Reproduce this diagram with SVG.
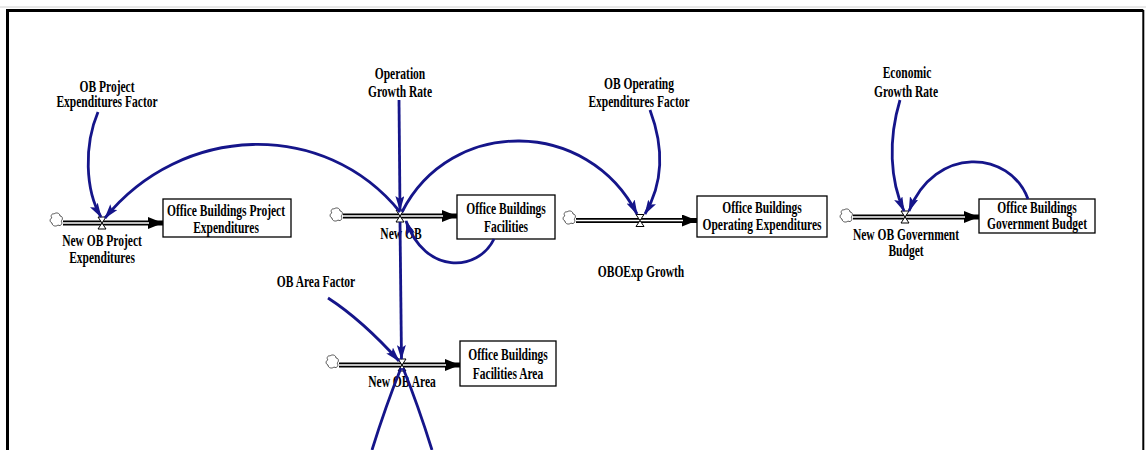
<svg xmlns="http://www.w3.org/2000/svg" width="1146" height="450" viewBox="0 0 1146 450">
  <style>
    .t { font-family: "Liberation Serif", "Times New Roman", serif; font-weight: bold; font-size: 16px; text-anchor: middle; fill: #000; }
    .box { fill: #fff; stroke: #000; stroke-width: 1.3; }
    .pipe { fill: none; stroke: #000; stroke-width: 5; }
    .pipe-in { fill: none; stroke: #fff; stroke-width: 1.6; }
    .valve { fill: #fff; stroke: #000; stroke-width: 1; }
    .cloud { fill: #fff; stroke: #555; stroke-width: 1; }
    .link { fill: none; stroke: #15158a; stroke-width: 2.8; }
    .arrow { marker-end: url(#linkHead); }
  </style>
  <defs>
    <marker id="linkHead" viewBox="0 0 15 9" refX="14" refY="4.5" markerWidth="15" markerHeight="9" markerUnits="userSpaceOnUse" orient="auto">
      <path d="M0,0 L15,4.5 L0,9 L3,4.5 Z" fill="#15158a"/>
    </marker>
    <marker id="flowHead" viewBox="0 0 15 12" refX="15" refY="6" markerWidth="15" markerHeight="12" markerUnits="userSpaceOnUse" orient="auto">
      <path d="M0,0 L15,6 L0,12 Z" fill="#000"/>
    </marker>
    <path id="cloudShape" d="M-3,-6 C-1,-8 3,-7 3,-4 C6,-4 6,0 4,1 C6,3 4,7 1,5 C-1,7 -5,6 -5,3 C-8,2 -7,-2 -5,-2 C-7,-4 -5,-7 -3,-6 Z"/>
    <path id="valveShape" d="M-4,-6 L4,-6 L0,0 Z M0,0 L4,6 L-4,6 Z"/>
  </defs>

  <rect width="1146" height="450" fill="#fff"/>

  <!-- outer frame -->
  <g id="frame">
    <line x1="0" y1="7" x2="1146" y2="7" stroke="#d0d0d0" stroke-width="1"/>
    <path d="M7.5,450 L7.5,10.5 L1143.3,10.5" fill="none" stroke="#000" stroke-width="3"/>
    <line x1="1143.3" y1="10" x2="1143.3" y2="450" stroke="#000" stroke-width="2"/>
  </g>

  <!-- stocks -->
  <g id="stock-project-expenditures">
    <rect class="box" x="163" y="199" width="128" height="38"/>
    <text class="t" transform="translate(226,216) scale(0.72,1)">Office Buildings Project</text>
    <text class="t" transform="translate(226,233) scale(0.72,1)">Expenditures</text>
  </g>
  <g id="stock-facilities">
    <rect class="box" x="457" y="195" width="98" height="44"/>
    <text class="t" transform="translate(506,214) scale(0.72,1)">Office Buildings</text>
    <text class="t" transform="translate(506,232) scale(0.72,1)">Facilities</text>
  </g>
  <g id="stock-operating-expenditures">
    <rect class="box" x="697" y="196" width="130" height="41"/>
    <text class="t" transform="translate(762,213) scale(0.72,1)">Office Buildings</text>
    <text class="t" transform="translate(762,230) scale(0.72,1)">Operating Expenditures</text>
  </g>
  <g id="stock-government-budget">
    <rect class="box" x="979" y="199" width="116" height="34"/>
    <text class="t" transform="translate(1037,213) scale(0.72,1)">Office Buildings</text>
    <text class="t" transform="translate(1037,229) scale(0.72,1)">Government Budget</text>
  </g>
  <g id="stock-facilities-area">
    <rect class="box" x="460" y="341" width="96" height="45"/>
    <text class="t" transform="translate(508,360) scale(0.72,1)">Office Buildings</text>
    <text class="t" transform="translate(508,379) scale(0.72,1)">Facilities Area</text>
  </g>

  <!-- flows: source cloud, pipe, valve, label -->
  <g id="flow-new-ob-project-expenditures">
    <use href="#cloudShape" class="cloud" transform="translate(57,220)"/>
    <line class="pipe" x1="63" y1="223" x2="163" y2="223" marker-end="url(#flowHead)"/>
    <line class="pipe-in" x1="63" y1="223" x2="149" y2="223"/>
    <use href="#valveShape" class="valve" transform="translate(102,223)"/>
    <text class="t" transform="translate(102,246) scale(0.72,1)">New OB Project</text>
    <text class="t" transform="translate(102,263) scale(0.72,1)">Expenditures</text>
  </g>
  <g id="flow-new-ob">
    <use href="#cloudShape" class="cloud" transform="translate(337,215)"/>
    <line class="pipe" x1="343" y1="216" x2="457" y2="216" marker-end="url(#flowHead)"/>
    <line class="pipe-in" x1="343" y1="216" x2="443" y2="216"/>
    <use href="#valveShape" class="valve" transform="translate(400,216)"/>
    <text class="t" transform="translate(401,239) scale(0.72,1)">New OB</text>
  </g>
  <g id="flow-oboexp-growth">
    <use href="#cloudShape" class="cloud" transform="translate(570,218)"/>
    <line class="pipe" x1="576" y1="220.5" x2="697" y2="220.5" marker-end="url(#flowHead)"/>
    <line class="pipe-in" x1="576" y1="220.5" x2="683" y2="220.5"/>
    <use href="#valveShape" class="valve" transform="translate(640,220.5)"/>
    <text class="t" transform="translate(641,277) scale(0.72,1)">OBOExp Growth</text>
  </g>
  <g id="flow-new-ob-government-budget">
    <use href="#cloudShape" class="cloud" transform="translate(847,216)"/>
    <line class="pipe" x1="853" y1="217" x2="979" y2="217" marker-end="url(#flowHead)"/>
    <line class="pipe-in" x1="853" y1="217" x2="965" y2="217"/>
    <use href="#valveShape" class="valve" transform="translate(905,217)"/>
    <text class="t" transform="translate(906,240) scale(0.72,1)">New OB Government</text>
    <text class="t" transform="translate(906,256) scale(0.72,1)">Budget</text>
  </g>
  <g id="flow-new-ob-area">
    <use href="#cloudShape" class="cloud" transform="translate(333,362)"/>
    <line class="pipe" x1="339" y1="365" x2="460" y2="365" marker-end="url(#flowHead)"/>
    <line class="pipe-in" x1="339" y1="365" x2="446" y2="365"/>
    <use href="#valveShape" class="valve" transform="translate(402,365)"/>
    <text class="t" transform="translate(402,387) scale(0.72,1)">New OB Area</text>
  </g>

  <!-- auxiliary variables -->
  <g id="aux-ob-project-expenditures-factor">
    <text class="t" transform="translate(107,92) scale(0.72,1)">OB Project</text>
    <text class="t" transform="translate(107,107) scale(0.72,1)">Expenditures Factor</text>
  </g>
  <g id="aux-operation-growth-rate">
    <text class="t" transform="translate(400,79) scale(0.72,1)">Operation</text>
    <text class="t" transform="translate(400,97) scale(0.72,1)">Growth Rate</text>
  </g>
  <g id="aux-ob-operating-expenditures-factor">
    <text class="t" transform="translate(639,89) scale(0.72,1)">OB Operating</text>
    <text class="t" transform="translate(639,107) scale(0.72,1)">Expenditures Factor</text>
  </g>
  <g id="aux-economic-growth-rate">
    <text class="t" transform="translate(907,78) scale(0.72,1)">Economic</text>
    <text class="t" transform="translate(906,97) scale(0.72,1)">Growth Rate</text>
  </g>
  <g id="aux-ob-area-factor">
    <text class="t" transform="translate(316,287) scale(0.72,1)">OB Area Factor</text>
  </g>

  <!-- causal links -->
  <g id="connectors">
    <path class="link arrow" d="M98,112 C84,145 85,190 101,217"/>
    <path class="link arrow" d="M400,212 C324,118 181,124 105,218"/>
    <path class="link arrow" d="M399,100 L400,210"/>
    <path class="link arrow" d="M402,212 C451,116 588,118 637,214"/>
    <path class="link arrow" d="M650,110 C665,150 662,185 645,214"/>
    <path class="link arrow" d="M494,239 C478,272 425,275 406,221"/>
    <path class="link arrow" d="M400,222 L401.5,359"/>
    <path class="link arrow" d="M328,298 Q362,320 399,361"/>
    <path class="link" d="M401,368 Q386,405 372,450"/>
    <path class="link" d="M403,368 Q418,405 432,450"/>
    <path class="link arrow" d="M900,100 C888,140 890,180 904,211"/>
    <path class="link arrow" d="M1028,199 C1010,150 935,145 909,211"/>
  </g>
</svg>
